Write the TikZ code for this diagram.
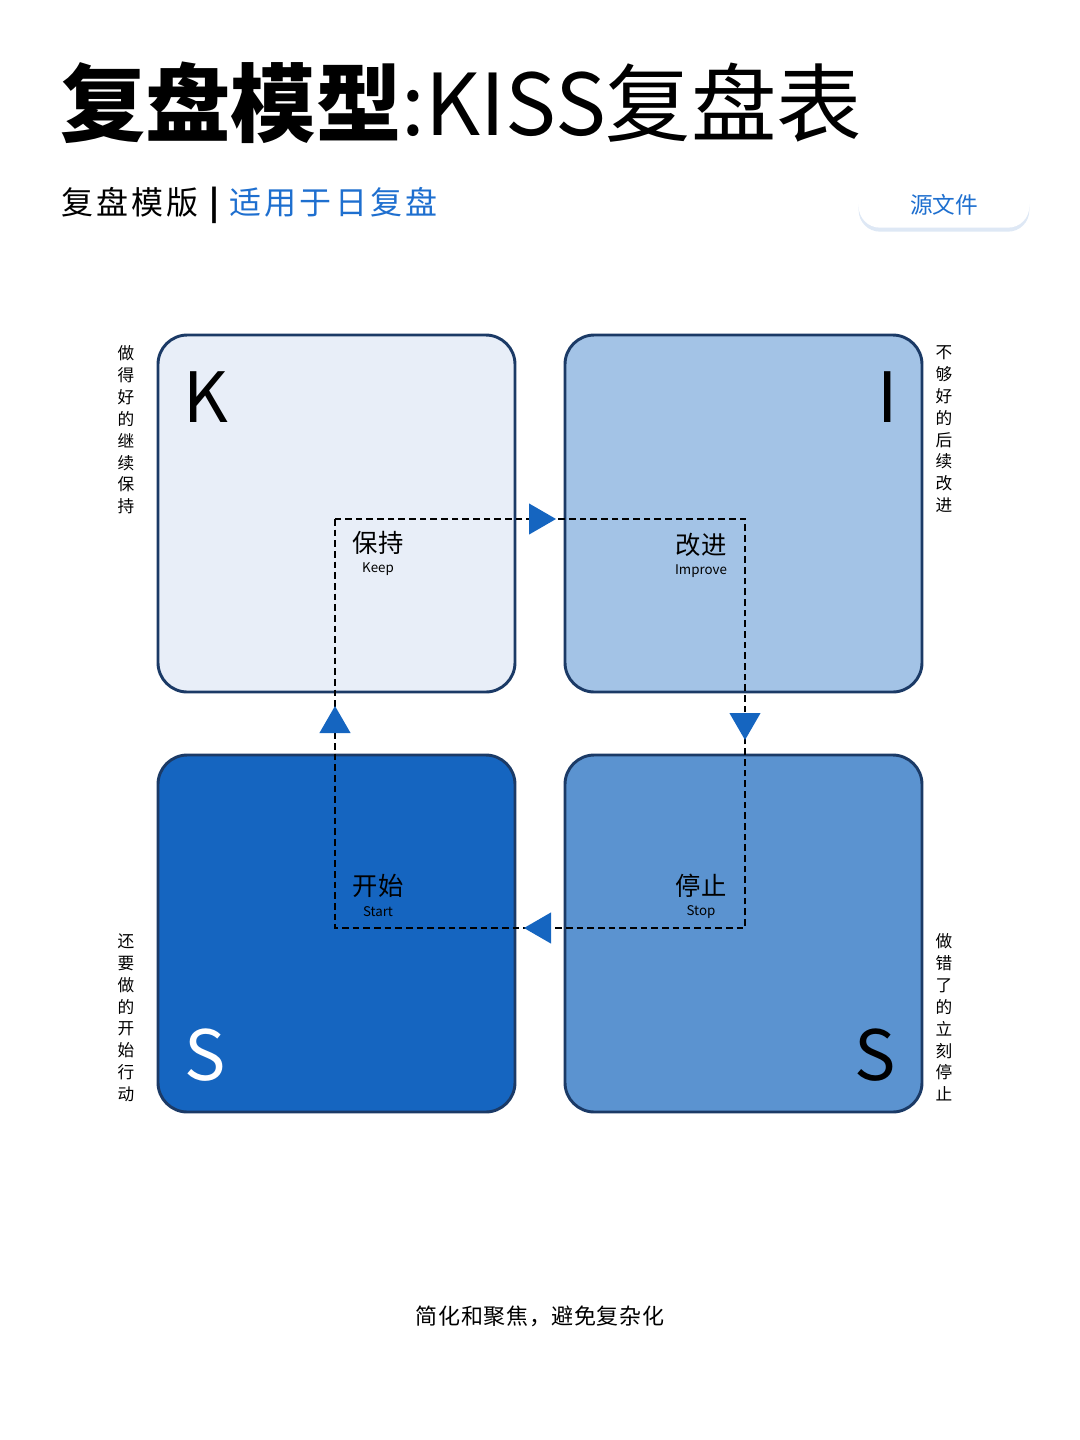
\documentclass[tikz,border=0pt]{standalone}
\usepackage{fontspec}
\setmainfont{Noto Sans CJK SC}
\usetikzlibrary{shadows,shapes.geometric}
\definecolor{edge}{HTML}{1B3A66}
\definecolor{kfill}{HTML}{E8EEF8}
\definecolor{ifill}{HTML}{A3C3E6}
\definecolor{sfill}{HTML}{1565C0}
\definecolor{tfill}{HTML}{5B93D0}
\definecolor{accent}{HTML}{1E6FCF}
\definecolor{shad}{HTML}{C8D8EE}
\tikzset{quad/.style={draw=edge,line width=2.2pt,rounded corners=22pt},
 side/.style={font=\fontsize{12.5}{16.4}\selectfont,align=center,anchor=north},
 big/.style={font=\fontsize{52}{52}\selectfont},
 cn/.style={font=\fontsize{19}{20}\selectfont},
 en/.style={font=\fontsize{10}{11}\selectfont},
 tri/.style={fill=sfill,regular polygon,regular polygon sides=3,inner sep=0pt,minimum size=27pt}}
\begin{document}
\begin{tikzpicture}[x=0.75pt,y=-0.75pt]
\useasboundingbox (0,0) rectangle (1080,1440);
\node[anchor=west,inner sep=0,font=\fontsize{64}{64}\selectfont] (title) at (60,103) {{\bfseries 复盘模型}:KISS复盘表};
\node[anchor=west,inner sep=0,font=\fontsize{24}{24}\selectfont\addfontfeatures{LetterSpace=10}] (sub) at (61,205) {复盘模版 {\bfseries |} \textcolor{accent}{适用于日复盘}};
\node[fill=white,rounded corners=16pt,minimum width=128pt,minimum height=34pt,drop shadow={color=shad,opacity=0.6,shadow xshift=0pt,shadow yshift=-3pt},text=accent,font=\fontsize{17}{17}\selectfont] (btn) at (944,205) {源文件};
\draw[quad,fill=kfill] (158,335) rectangle (515,692);
\draw[quad,fill=ifill] (565,335) rectangle (922,692);
\draw[quad,fill=sfill] (158,755) rectangle (515,1112);
\draw[quad,fill=tfill] (565,755) rectangle (922,1112);
\node[big] (k) at (206,397) {K};
\node[big] (i) at (888,397) {I};
\node[big,text=white] (s1) at (205,1055) {S};
\node[big] (s2) at (875,1055) {S};
\draw[dashed,line width=1.1pt,dash pattern=on 5pt off 3pt] (335,519) rectangle (745,928);
\node[tri,rotate=-90] (a1) at (538,519) {};
\node[tri,rotate=180] (a2) at (745,722) {};
\node[tri,rotate=90] (a3) at (542,928) {};
\node[tri] (a4) at (335,724) {};
\node[cn] (t1) at (378,543) {保持}; \node[en] (e1) at (378,569) {Keep};
\node[cn] (t2) at (701,545) {改进}; \node[en] (e2) at (701,571) {Improve};
\node[cn] (t3) at (378,886) {开始}; \node[en] (e3) at (378,912) {Start};
\node[cn] (t4) at (701,886) {停止}; \node[en] (e4) at (701,912) {Stop};
\node[side] (l1) at (126,341) {做\\得\\好\\的\\继\\续\\保\\持};
\node[side] (r1) at (944,341) {不\\够\\好\\的\\后\\续\\改\\进};
\node[side] (l2) at (126,929) {还\\要\\做\\的\\开\\始\\行\\动};
\node[side] (r2) at (944,929) {做\\错\\了\\的\\立\\刻\\停\\止};
\node[font=\fontsize{16.5}{17}\selectfont\addfontfeatures{LetterSpace=3}] (foot) at (540,1316) {简化和聚焦，避免复杂化};
\end{tikzpicture}
\end{document}
